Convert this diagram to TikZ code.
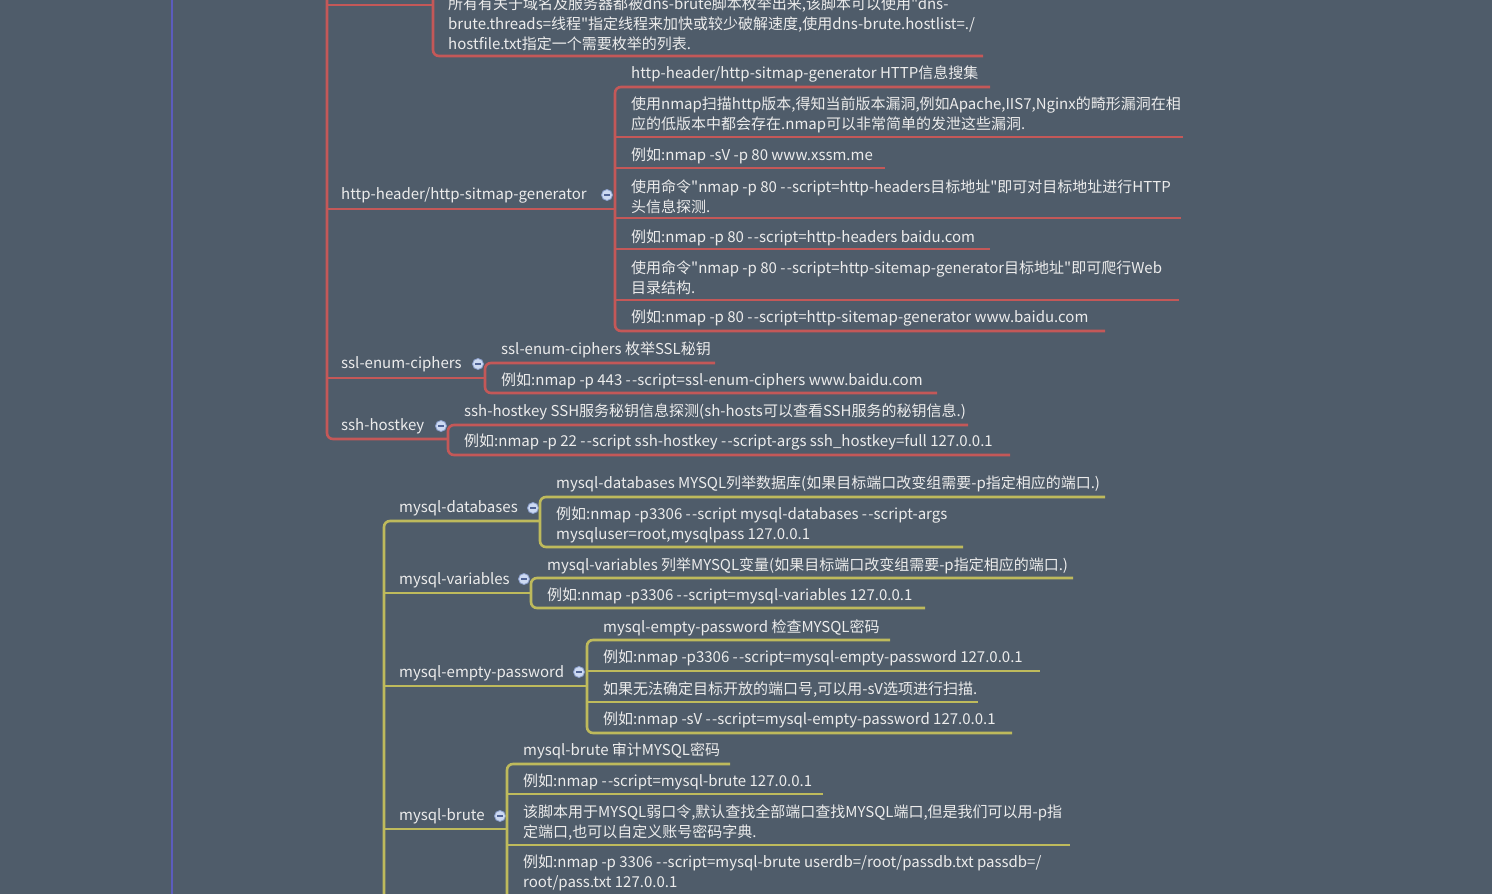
\documentclass[tikz,border=0pt]{standalone}
\usepackage{fontspec}
\newfontfamily\cjk{Noto Sans CJK SC}
\newcommand{\dd}{-\kern1.3pt-}
\definecolor{bgc}{RGB}{79,92,106}
\definecolor{redc}{RGB}{196,88,88}
\definecolor{yelc}{RGB}{190,186,92}
\definecolor{purc}{RGB}{92,92,190}
\definecolor{txtc}{RGB}{236,236,236}
\definecolor{foldc}{RGB}{205,218,242}
\definecolor{foldb}{RGB}{140,160,205}
\definecolor{foldm}{RGB}{80,100,150}
\tikzset{
  txt/.style={font=\cjk\fontsize{15}{20}\selectfont, text=txtc, inner sep=0pt, anchor=west, align=left, yshift=-1.5pt},
  rl/.style={draw=redc, line width=2.6pt, rounded corners=6pt},
  yl/.style={draw=yelc, line width=2.6pt, rounded corners=6pt},
  pl/.style={draw=purc, line width=2pt},
  fold/.style={circle, fill=foldc, draw=foldb, line width=0.8pt, minimum size=11pt, inner sep=0pt,
    path picture={\draw[foldm, line width=1.3pt] ([xshift=-2.6pt]path picture bounding box.center) -- ([xshift=2.6pt]path picture bounding box.center);}}
}
\begin{document}
\begin{tikzpicture}[x=1pt,y=-1pt]
\useasboundingbox (0,0) rectangle (1492,894);
\fill[bgc] (0,0) rectangle (1492,894);
% purple main branch
\coordinate (p0) at (172,0); \coordinate (p1) at (172,894);
\draw[pl] (p0) -- (p1);
% ---------------- red group ----------------
\coordinate (r0) at (327,0);
\coordinate (rend) at (448,439);
\draw[rl] (r0) -- (327,439) -- (rend);
% dns-brute
\coordinate (d0) at (327,5); \coordinate (d1) at (433,5);
\draw[rl] (d0) -- (d1);
\coordinate (dt) at (433,0); \coordinate (de) at (983,56);
\draw[rl] (dt) -- (433,56) -- (de);
\node[txt] (dns) at (448,22) {所有有关于域名及服务器都被dns-brute脚本枚举出来,该脚本可以使用"dns-\\brute.threads=线程"指定线程来加快或较少破解速度,使用dns-brute.hostlist=./\\hostfile.txt指定一个需要枚举的列表.};
% http-header
\node[txt] (http) at (341,194) {http-header/http-sitmap-generator};
\node[fold] (fhttp) at (607,195) {};
\coordinate (hp0) at (327,209); \coordinate (hp1) at (615,209);
\draw[rl] (hp0) -- (hp1);
\coordinate (ha) at (990,87); \coordinate (hz) at (1105,331);
\draw[rl] (ha) -- (615,87) -- (615,331) -- (hz);
\draw[rl] (615,137) -- (1183,137);
\draw[rl] (615,168) -- (885,168);
\draw[rl] (615,218) -- (1181,218);
\draw[rl] (615,249) -- (990,249);
\draw[rl] (615,300) -- (1179,300);
\node[txt] (h1) at (631,72) {http-header/http-sitmap-generator HTTP信息搜集};
\node[txt] (h2) at (631,113) {使用nmap扫描http版本,得知当前版本漏洞,例如Apache,IIS7,Nginx的畸形漏洞在相\\应的低版本中都会存在.nmap可以非常简单的发泄这些漏洞.};
\node[txt] (h3) at (631,154) {例如:nmap -sV -p 80 www.xssm.me};
\node[txt] (h4) at (631,195) {使用命令"nmap -p 80 \dd script=http-headers目标地址"即可对目标地址进行HTTP\\头信息探测.};
\node[txt] (h5) at (631,236) {例如:nmap -p 80 \dd script=http-headers baidu.com};
\node[txt] (h6) at (631,276.5) {使用命令"nmap -p 80 \dd script=http-sitemap-generator目标地址"即可爬行Web\\目录结构.};
\node[txt] (h7) at (631,317) {例如:nmap -p 80 \dd script=http-sitemap-generator www.baidu.com};
% ssl-enum-ciphers
\node[txt] (ssl) at (341,363) {ssl-enum-ciphers};
\node[fold] (fssl) at (478,364) {};
\draw[rl] (327,378) -- (485,378);
\draw[rl] (715,363) -- (485,363) -- (485,393) -- (937,393);
\node[txt] (s1) at (501,348) {ssl-enum-ciphers 枚举SSL秘钥};
\node[txt] (s2) at (501,379) {例如:nmap -p 443 \dd script=ssl-enum-ciphers www.baidu.com};
% ssh-hostkey
\node[txt] (ssh) at (341,425) {ssh-hostkey};
\node[fold] (fssh) at (441,426) {};
\draw[rl] (968,425) -- (448,425) -- (448,455) -- (1010,455);
\node[txt] (k1) at (464,410) {ssh-hostkey SSH服务秘钥信息探测(sh-hosts可以查看SSH服务的秘钥信息.)};
\node[txt] (k2) at (464,441) {例如:nmap -p 22 \dd script ssh-hostkey \dd script-args ssh\_hostkey=full 127.0.0.1};
% ---------------- yellow group ----------------
\coordinate (y0) at (384,894); \coordinate (y1) at (540,521);
\draw[yl] (y0) -- (384,521) -- (y1);
% mysql-databases
\node[txt] (mdb) at (399,507) {mysql-databases};
\node[fold] (fmdb) at (533,508) {};
\draw[yl] (1105,497) -- (540,497) -- (540,547) -- (963,547);
\node[txt] (m1) at (556,482) {mysql-databases MYSQL列举数据库(如果目标端口改变组需要-p指定相应的端口.)};
\node[txt] (m2) at (556,523) {例如:nmap -p3306 \dd script mysql-databases \dd script-args\\mysqluser=root,mysqlpass 127.0.0.1};
% mysql-variables
\node[txt] (mvar) at (399,579) {mysql-variables};
\node[fold] (fmvar) at (524,579) {};
\draw[yl] (384,593) -- (531,593);
\draw[yl] (1073,578) -- (531,578) -- (531,608) -- (925,608);
\node[txt] (v1) at (547,564) {mysql-variables 列举MYSQL变量(如果目标端口改变组需要-p指定相应的端口.)};
\node[txt] (v2) at (547,594) {例如:nmap -p3306 \dd script=mysql-variables 127.0.0.1};
% mysql-empty-password
\node[txt] (memp) at (399,672) {mysql-empty-password};
\node[fold] (fmemp) at (579,672) {};
\draw[yl] (384,686) -- (587,686);
\draw[yl] (890,640) -- (587,640) -- (587,733) -- (1012,733);
\draw[yl] (587,671) -- (1040,671);
\draw[yl] (587,702) -- (978,702);
\node[txt] (e1) at (603,626) {mysql-empty-password 检查MYSQL密码};
\node[txt] (e2) at (603,656) {例如:nmap -p3306 \dd script=mysql-empty-password 127.0.0.1};
\node[txt] (e3) at (603,688) {如果无法确定目标开放的端口号,可以用-sV选项进行扫描.};
\node[txt] (e4) at (603,718) {例如:nmap -sV \dd script=mysql-empty-password 127.0.0.1};
% mysql-brute
\node[txt] (mbr) at (399,815) {mysql-brute};
\node[fold] (fmbr) at (500,816) {};
\draw[yl] (384,829) -- (507,829);
\draw[yl] (730,764) -- (507,764) -- (507,900);
\draw[yl] (507,794) -- (823,794);
\draw[yl] (507,845) -- (1070,845);
\node[txt] (b1) at (523,749) {mysql-brute 审计MYSQL密码};
\node[txt] (b2) at (523,780) {例如:nmap \dd script=mysql-brute 127.0.0.1};
\node[txt] (b3) at (523,821) {该脚本用于MYSQL弱口令,默认查找全部端口查找MYSQL端口,但是我们可以用-p指\\定端口,也可以自定义账号密码字典.};
\node[txt] (b4) at (523,871) {例如:nmap -p 3306 \dd script=mysql-brute userdb=/root/passdb.txt passdb=/\\root/pass.txt 127.0.0.1};
\end{tikzpicture}
\end{document}
